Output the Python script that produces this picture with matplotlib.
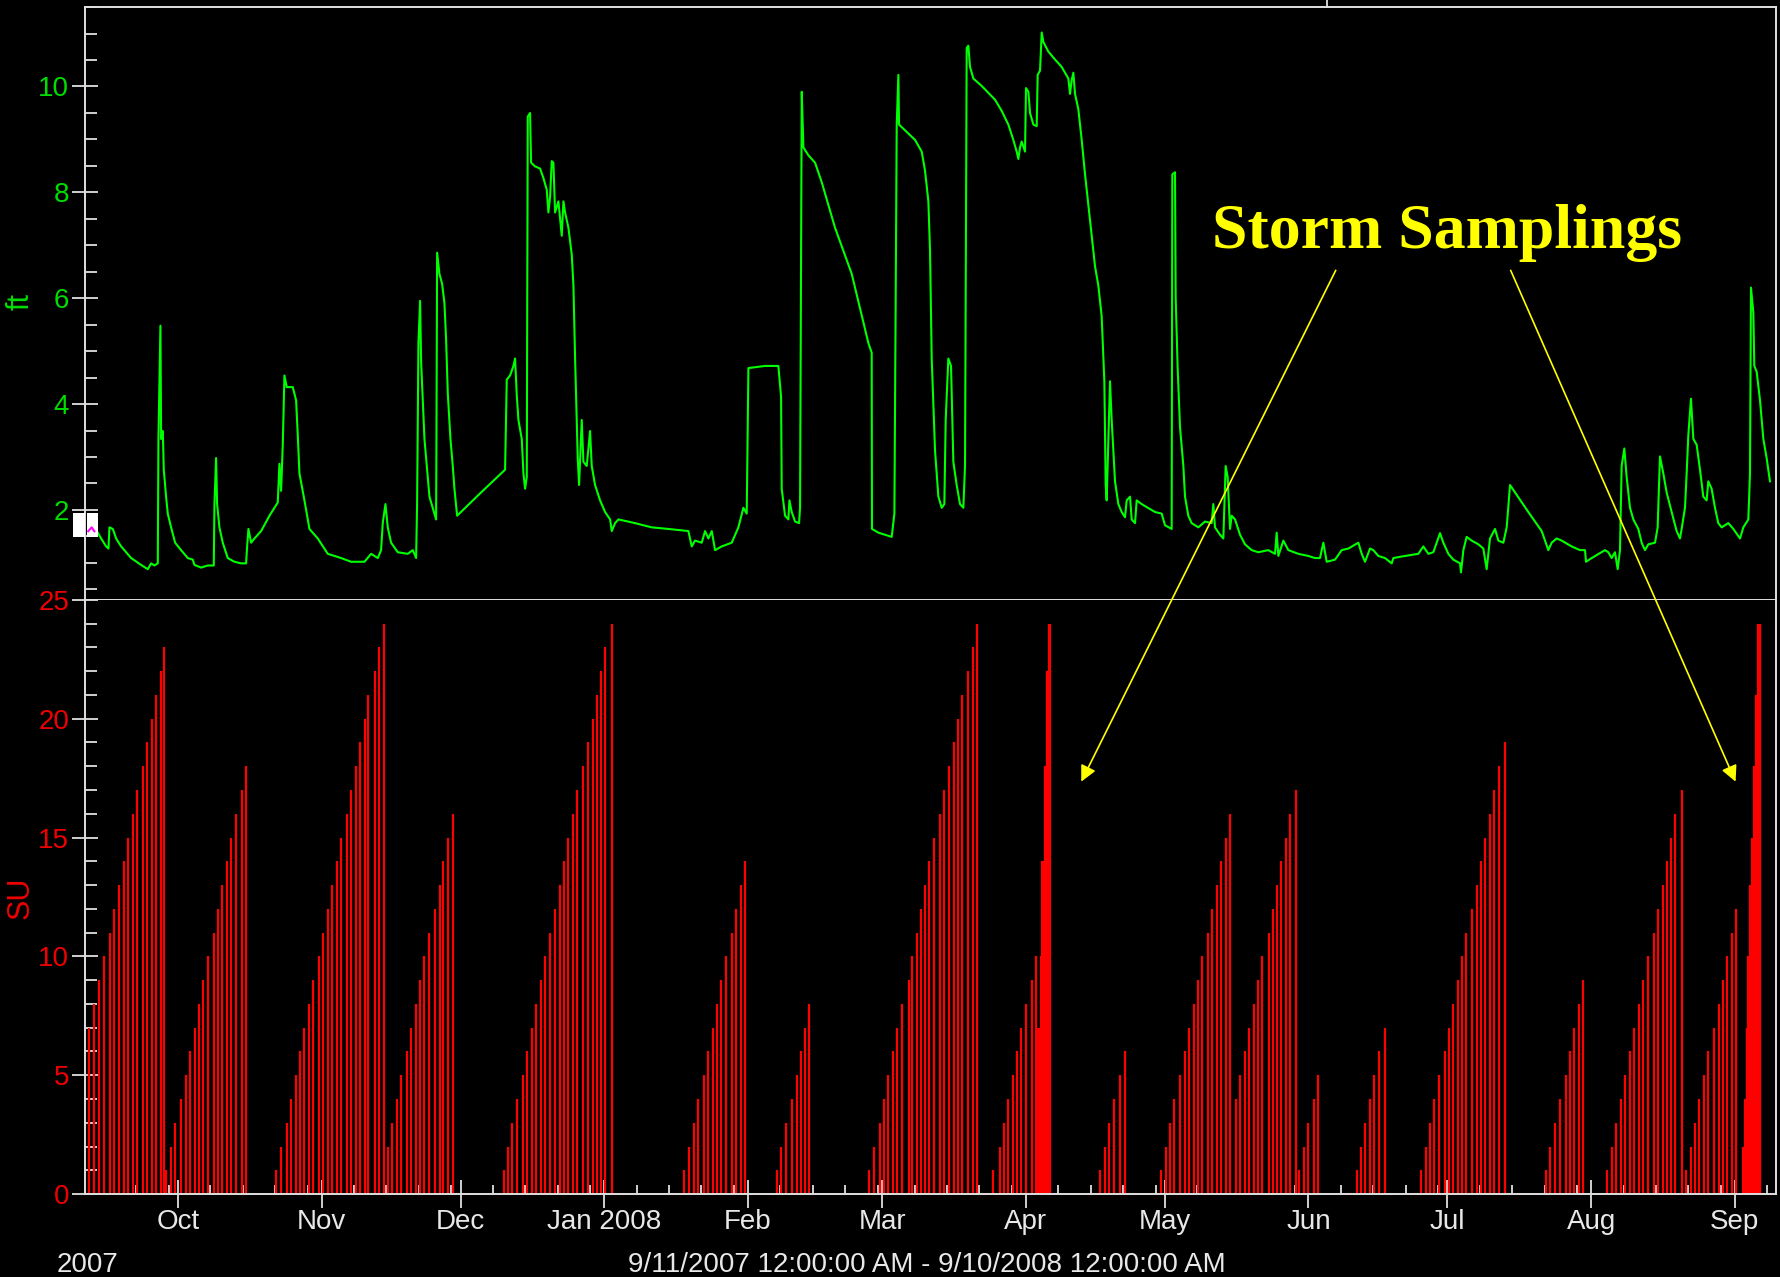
import matplotlib
matplotlib.use("Agg")
import matplotlib.pyplot as plt
import matplotlib.dates as mdates
from matplotlib.ticker import MultipleLocator, FuncFormatter
from matplotlib.patches import Rectangle, FancyArrowPatch
from matplotlib.lines import Line2D
from datetime import datetime
import numpy as np

# ---------------- data ----------------
START = datetime(2007, 9, 11)
END_DAYS = 365

# water level (ft) : days since 9/11/2007
level_days = [
    2.72, 3.44, 4.52, 5.02, 5.24, 5.96, 6.68, 7.75, 9.91, 12.07, 13.51, 14.23, 14.95, 15.67,
    15.81, 16.24, 16.39, 16.75, 16.96, 17.46, 17.82, 18.54, 19.41, 20.70, 22.14, 23.22, 23.58,
    25.02, 26.46, 27.75, 27.90, 28.25, 28.47, 28.97, 29.69, 30.77, 32.21, 33.65, 34.73, 34.95,
    35.23, 35.81, 36.53, 37.97, 39.77, 41.56, 41.92, 42.28, 42.64, 43.00, 43.50, 44.80, 45.52,
    45.88, 46.24, 47.32, 48.40, 50.20, 52.35, 55.23, 57.39, 60.27, 61.71, 63.14, 63.86, 64.22,
    64.80, 65.30, 66.02, 67.46, 69.62, 70.70, 71.42, 71.63, 71.92, 72.28, 72.50, 72.86, 73.22,
    73.79, 74.30, 75.01, 75.73, 75.80, 75.95, 76.45, 77.03, 77.53, 77.89, 78.25, 78.83, 79.33,
    79.69, 80.27, 85.44, 90.62,
    90.98, 91.70, 92.42, 92.78, 93.14, 93.50, 94.22, 94.58, 94.94, 95.30, 95.51, 96.01, 96.23,
    97.09, 98.17, 98.89, 99.61, 99.97, 100.33, 100.69, 101.05, 101.41, 102.13, 102.85, 103.21,
    103.57, 104.29, 105.01, 105.37, 105.73, 106.30, 106.59, 107.16, 107.52, 108.24, 108.96,
    109.32, 110.04, 111.12, 112.20, 113.28, 113.64, 114.36, 115.08, 118.67, 122.27, 125.87,
    130.18, 130.90, 131.62, 133.06, 133.78, 134.50, 135.22, 135.94, 137.38, 139.53, 140.97,
    142.05, 142.77, 143.13, 146.73, 149.60, 150.18, 150.32, 151.04, 151.76, 151.98, 152.48,
    153.20, 154.06, 154.28, 154.64, 155.00, 156.08, 157.52, 158.96, 160.39, 161.83, 165.43,
    169.03, 169.74, 169.80, 171.18, 172.62, 174.06, 174.64, 175.14, 175.50, 175.64, 176.94,
    179.10,
    180.53, 181.25, 181.97, 182.33, 182.69, 183.41, 184.13, 184.85, 185.42, 185.71, 186.28,
    186.86, 187.15, 187.36, 188.08, 188.80, 189.52, 189.88, 190.24, 190.60, 190.96, 191.68,
    193.48, 196.36, 197.79, 199.23, 200.31, 201.03, 201.39, 201.75, 202.11, 202.83, 203.04,
    203.55, 203.91, 204.63, 205.35, 205.56, 206.07, 206.43, 206.79, 207.86, 209.30, 210.74,
    212.18, 212.54, 212.90, 213.26, 213.62, 214.34, 215.06, 215.78, 216.50, 217.22, 217.94,
    218.65, 219.37, 219.95, 220.24, 220.45, 220.81, 221.17, 221.53, 222.25, 222.97, 223.69,
    224.41, 224.77, 225.49, 225.85, 226.57, 226.93, 228.00, 230.88, 232.32, 233.04, 234.48,
    234.62, 235.20, 235.34, 235.77, 236.28, 237.00, 237.36, 238.07, 238.79, 240.23, 241.67,
    243.11, 243.47, 243.83, 244.91, 245.63, 246.13, 246.56, 247.07, 247.43, 248.15, 249.23,
    250.30, 251.74, 253.18, 255.34, 256.78, 257.14, 257.50, 258.58, 259.66, 261.81, 263.97,
    265.41, 266.49, 267.21, 267.93, 269.73, 271.17,
    272.61, 274.77, 275.49, 276.21, 277.28, 278.00, 279.08, 280.52, 281.96, 282.32, 284.84,
    287.71, 288.79, 289.87, 290.95, 291.67, 292.39, 293.11, 294.19, 295.27, 296.71, 296.92,
    297.43, 298.14, 299.22, 300.66, 301.74, 302.46, 303.18, 304.26, 304.98, 306.06, 306.78,
    307.50, 308.58, 311.45, 314.33, 315.77, 316.49, 317.57, 318.65, 320.80, 322.60, 323.68,
    323.90, 325.12, 328.00, 328.71, 329.43, 330.15, 330.73, 331.23, 331.59, 332.17, 332.67,
    333.39, 334.11, 335.19, 335.91, 336.63, 337.35, 338.79, 339.36, 339.86, 340.58, 341.30,
    342.38, 343.46, 344.18, 344.54, 345.26, 345.62, 345.98, 346.55, 347.06, 347.78, 348.50,
    349.21, 349.93, 350.29, 351.01, 351.73, 352.45, 353.17, 354.61, 355.69, 357.13, 357.85,
    358.93, 359.29, 359.50, 360.01, 360.22, 360.73, 361.45, 362.17, 362.88, 363.60,
]
level_ft = [
    1.57, 1.46, 1.31, 1.27, 1.67, 1.64, 1.46, 1.31, 1.09, 0.96, 0.88, 0.99, 0.95, 0.99,
    3.34, 5.48, 3.34, 3.49, 2.76, 2.25, 1.93, 1.67, 1.38, 1.24, 1.09, 1.06, 0.96,
    0.91, 0.95, 0.95, 2.11, 2.98, 2.11, 1.67, 1.38, 1.09, 1.02, 0.99, 0.99, 1.31,
    1.64, 1.38, 1.46, 1.60, 1.89, 2.14, 2.87, 2.36, 3.23, 4.54, 4.32, 4.32, 4.07,
    3.41, 2.69, 2.18, 1.64, 1.46, 1.17, 1.09, 1.02, 1.02, 1.17, 1.09, 1.24, 1.75,
    2.11, 1.67, 1.38, 1.20, 1.17, 1.24, 1.09, 2.11, 5.15, 5.95, 4.79, 4.07, 3.34,
    2.76, 2.25, 2.04, 1.82, 3.16, 6.86, 6.46, 6.27, 5.91, 5.22, 4.21, 3.34, 2.83,
    2.40, 1.89, 2.33, 2.76,
    4.46, 4.54, 4.72, 4.86, 4.17, 3.70, 3.34, 2.69, 2.40, 2.62, 9.43, 9.50, 8.56,
    8.49, 8.45, 8.27, 8.05, 7.62, 7.91, 8.59, 8.56, 7.62, 7.83, 7.18, 7.83,
    7.62, 7.33, 6.82, 6.24, 4.86, 2.98, 2.47, 3.70, 2.91, 2.83, 3.49,
    2.83, 2.47, 2.18, 1.96, 1.82, 1.60, 1.75, 1.82, 1.75, 1.67, 1.64,
    1.60, 1.31, 1.42, 1.38, 1.60, 1.46, 1.60, 1.24, 1.31, 1.38, 1.67,
    2.04, 1.93, 4.68, 4.72, 4.72, 4.14, 2.40, 1.89, 1.82, 2.18, 1.96,
    1.78, 1.75, 2.04, 9.90, 8.85, 8.70, 8.56, 8.19, 7.76, 7.33, 6.46,
    5.15, 4.97, 1.64, 1.57, 1.53, 1.49, 1.93, 9.28, 10.22, 9.28, 9.17,
    8.99,
    8.77, 8.41, 7.83, 6.89, 4.86, 3.12, 2.25, 2.04, 2.11, 3.70, 4.86,
    4.72, 3.70, 2.91, 2.47, 2.11, 2.04, 2.83, 10.73, 10.77, 10.37, 10.15,
    10.01, 9.75, 9.54, 9.28, 8.99, 8.77, 8.63, 8.85, 8.96, 8.77, 9.97,
    9.90, 9.50, 9.28, 9.25, 10.22, 10.30, 11.02, 10.84, 10.66, 10.51, 10.37,
    10.15, 9.86, 10.12, 10.26, 9.86, 9.57, 8.99, 8.34, 7.76, 7.18, 6.60,
    6.24, 5.66, 4.43, 2.47, 2.18, 3.34, 4.43, 3.70, 2.54, 2.11, 1.96,
    1.86, 2.18, 2.25, 1.82, 1.75, 2.18, 2.11, 1.96, 1.93, 1.71, 1.64,
    8.34, 8.38, 6.02, 4.68, 3.56, 2.83, 2.25, 1.89, 1.75, 1.67, 1.78,
    1.75, 2.11, 1.67, 1.53, 1.46, 2.83, 2.62, 1.64, 1.89, 1.82, 1.53,
    1.35, 1.24, 1.20, 1.24, 1.17, 1.57, 1.13, 1.42, 1.24, 1.17, 1.13,
    1.09, 1.09, 1.38, 1.02, 1.06, 1.24,
    1.27, 1.38, 1.17, 1.02, 1.27, 1.24, 1.13, 1.09, 0.99, 1.09, 1.13,
    1.17, 1.31, 1.17, 1.20, 1.38, 1.56, 1.38, 1.17, 1.06, 0.99, 0.82,
    1.24, 1.49, 1.42, 1.35, 1.27, 0.88, 1.46, 1.64, 1.42, 1.38, 1.67,
    2.47, 2.33, 1.96, 1.60, 1.24, 1.38, 1.46, 1.42, 1.31, 1.24, 1.24,
    1.02, 1.09, 1.24, 1.20, 1.09, 1.20, 0.88, 1.24, 2.83, 3.16, 2.62,
    2.04, 1.82, 1.64, 1.38, 1.24, 1.35, 1.38, 1.67, 3.01, 2.69, 2.33,
    1.96, 1.60, 1.46, 1.64, 2.04, 2.69, 3.41, 4.10, 3.34, 3.23, 2.76,
    2.25, 2.18, 2.54, 2.40, 2.04, 1.75, 1.67, 1.75, 1.64, 1.46, 1.67,
    1.82, 2.69, 6.20, 5.73, 4.72, 4.61, 4.07, 3.34, 2.98, 2.54,
]

# sampler bottle count (SU) : days since 9/11/2007, per sample
su_days = (
    [0.85, 2.0, 3.0, 4.0, 5.4, 6.3, 7.3, 8.3, 9.3, 10.3, 11.1, 12.4, 13.4, 14.4, 15.2, 16.3, 17.1]
    + [17.4, 18.5, 19.4, 20.7, 21.7, 22.7, 23.6, 24.6, 25.5, 26.5, 27.7, 28.6, 29.6, 30.6, 31.5, 32.5, 33.8, 34.7]
    + [41.2, 42.2, 43.5, 44.5, 45.4, 46.4, 47.3, 48.2, 49.1, 50.5, 51.4, 52.4, 53.3, 54.3, 55.2, 56.5,
       57.4, 58.4, 59.3, 60.3, 61.1, 62.6, 63.5, 64.4]
    + [65.3, 66.3, 67.3, 68.2, 69.4, 70.4, 71.4, 72.3, 73.2, 74.2, 75.5, 76.5, 77.3, 78.3, 79.3]
    + [90.3, 91.2, 92.2, 93.1, 94.4, 95.4, 96.4, 97.3, 98.3, 99.3, 100.3, 101.4, 102.4, 103.4, 104.3,
       105.2, 106.2, 107.5, 108.5, 109.5, 110.4, 111.3, 112.2, 113.6]
    + [129.3, 130.3, 131.3, 132.2, 133.6, 134.5, 135.4, 136.4, 137.2, 138.2, 139.5, 140.5, 141.5, 142.4]
    + [149.3, 150.2, 151.2, 152.5, 153.6, 154.4, 155.4, 156.2]
    + [169.2, 170.2, 171.5, 172.5, 173.3, 174.3, 175.2, 176.2, 177.7, 178.5, 179.5, 180.4, 181.3, 182.2,
       183.2, 184.5, 185.4, 186.4, 187.4, 188.3, 189.2, 190.5, 191.5, 192.4]
    + [195.9, 197.4, 198.3, 199.25, 200.2, 201.1, 202.0, 203.0, 204.4, 205.2,
       205.5, 205.7, 205.9, 206.1, 206.3, 206.5, 206.7, 206.9, 207.1, 207.3, 207.5, 207.7, 207.85,
       208.0, 208.2]
    + [219.0, 220.0, 221.0, 222.0, 223.3, 224.3]
    + [232.1, 233.2, 234.1, 235.0, 236.3, 237.3, 238.3, 239.2, 240.2, 241.0, 242.4, 243.2, 244.2, 245.1,
       246.1, 247.1]
    + [248.4, 249.3, 250.2, 251.2, 252.2, 253.1, 253.9, 255.4, 256.3, 257.2, 258.1, 259.1, 260.0, 261.4]
    + [261.9, 263.0, 264.0, 265.2, 266.1]
    + [274.4, 275.4, 276.3, 277.3, 278.2, 279.2, 280.5]
    + [288.3, 289.3, 290.2, 291.2, 292.2, 293.4, 294.4, 295.3, 296.3, 297.2, 298.0, 299.4, 300.4, 301.3,
       302.2, 303.2, 304.1, 305.2, 306.5]
    + [315.3, 316.2, 317.2, 318.2, 319.5, 320.4, 321.4, 322.3, 323.3]
    + [328.4, 329.4, 330.3, 331.4, 332.4, 333.3, 334.3, 335.3, 336.3, 337.2, 338.6, 339.5, 340.5, 341.4,
       342.3, 343.2, 344.6]
    + [345.4, 346.5, 347.4, 348.3, 349.3, 350.3, 351.6, 352.6, 353.5, 354.4, 355.4, 356.3]
    + [357.7, 357.95, 358.2, 358.35, 358.55, 358.75, 358.95, 359.15, 359.35, 359.55, 359.75, 359.95,
       360.15, 360.35, 360.55, 360.75, 360.95, 361.15, 361.35, 361.55]
)
su_counts = (
    [7, 8, 9, 10, 11, 12, 13, 14, 15, 16, 17, 18, 19, 20, 21, 22, 23]
    + [1, 2, 3, 4, 5, 6, 7, 8, 9, 10, 11, 12, 13, 14, 15, 16, 17, 18]
    + [1, 2, 3, 4, 5, 6, 7, 8, 9, 10, 11, 12, 13, 14, 15, 16, 17, 18, 19, 20, 21, 22, 23, 24]
    + [2, 3, 4, 5, 6, 7, 8, 9, 10, 11, 12, 13, 14, 15, 16]
    + [1, 2, 3, 4, 5, 6, 7, 8, 9, 10, 11, 12, 13, 14, 15, 16, 17, 18, 19, 20, 21, 22, 23, 24]
    + [1, 2, 3, 4, 5, 6, 7, 8, 9, 10, 11, 12, 13, 14]
    + [1, 2, 3, 4, 5, 6, 7, 8]
    + [1, 2, 3, 4, 5, 6, 7, 8, 9, 10, 11, 12, 13, 14, 15, 16, 17, 18, 19, 20, 21, 22, 23, 24]
    + [1, 2, 3, 4, 5, 6, 7, 8, 9, 10,
       7, 7, 7, 7, 10, 14, 14, 14, 18, 18, 22, 22, 22, 24, 24]
    + [1, 2, 3, 4, 5, 6]
    + [1, 2, 3, 4, 5, 6, 7, 8, 9, 10, 11, 12, 13, 14, 15, 16]
    + [4, 5, 6, 7, 8, 9, 10, 11, 12, 13, 14, 15, 16, 17]
    + [1, 2, 3, 4, 5]
    + [1, 2, 3, 4, 5, 6, 7]
    + [1, 2, 3, 4, 5, 6, 7, 8, 9, 10, 11, 12, 13, 14, 15, 16, 17, 18, 19]
    + [1, 2, 3, 4, 5, 6, 7, 8, 9]
    + [1, 2, 3, 4, 5, 6, 7, 8, 9, 10, 11, 12, 13, 14, 15, 16, 17]
    + [1, 2, 3, 4, 5, 6, 7, 8, 9, 10, 11, 12]
    + [2, 2, 4, 4, 7, 7, 10, 10, 13, 13, 15, 15, 18, 18, 21, 21, 24, 24, 24, 24]
)

ft_ticks = [2, 4, 6, 8, 10]
su_ticks = [0, 5, 10, 15, 20, 25]
date_caption = "9/11/2007 12:00:00 AM - 9/10/2008 12:00:00 AM"
year_caption = "2007"
note_text = "Storm Samplings"

# ---------------- style ----------------
GREEN_LINE = "#00FF00"
GREEN_TXT = "#00DD00"
RED = "#FF0000"
RED_TXT = "#EE0000"
AXC = "#E0E0E0"
SANS = ["Liberation Sans", "DejaVu Sans"]
SERIF = ["Liberation Serif", "DejaVu Serif"]
FS = 20

fig = plt.figure(figsize=(17.81, 12.77), dpi=100, facecolor="black")

L, R = 0.04783, 0.99745
ax1 = fig.add_axes([L, 0.53025, R - L, 0.99444 - 0.53025])
ax2 = fig.add_axes([L, 0.06495, R - L, 0.53025 - 0.06495])

x0 = mdates.date2num(START)
lx = x0 + np.asarray(level_days)
bx = x0 + np.asarray(su_days)

for ax in (ax1, ax2):
    ax.set_facecolor("black")
    ax.set_xlim(x0, x0 + END_DAYS)
    for s in ax.spines.values():
        s.set_color(AXC)
        s.set_linewidth(1.4)

# top panel
ax1.plot(lx, level_ft, color=GREEN_LINE, lw=1.5, zorder=3)
ax1.set_ylim(0.3, 11.5)
ax1.set_yticks(ft_ticks)
ax1.yaxis.set_minor_locator(MultipleLocator(0.5))
ax1.tick_params(axis="x", which="both", bottom=False, labelbottom=False)
ax1.tick_params(axis="y", which="major", direction="inout", length=19, width=1.3,
                color=AXC, labelcolor=GREEN_TXT, labelsize=FS, pad=2)
ax1.tick_params(axis="y", which="minor", direction="in", length=8.5, width=1.3, color=AXC)
for t in ax1.get_yticklabels():
    t.set_family(SANS)

# bottom panel
ax2.vlines(bx, 0, su_counts, color=RED, lw=1.6, zorder=2)
ax2.set_ylim(0, 25)
ax2.set_yticks(su_ticks)
ax2.yaxis.set_minor_locator(MultipleLocator(1))
ax2.spines["top"].set_visible(False)
ax2.tick_params(axis="y", which="major", direction="inout", length=19, width=1.3,
                color=AXC, labelcolor=RED_TXT, labelsize=FS, pad=2)
ax2.tick_params(axis="y", which="minor", direction="in", length=8.5, width=1.3, color=AXC)

ax2.xaxis.set_major_locator(mdates.MonthLocator())
ax2.xaxis.set_minor_locator(mdates.DayLocator(bymonthday=[8, 15, 22, 29]))


def month_fmt(v, pos=None):
    d = mdates.num2date(v)
    return d.strftime("%b %Y") if d.month == 1 else d.strftime("%b")


ax2.xaxis.set_major_formatter(FuncFormatter(month_fmt))
ax2.tick_params(axis="x", which="major", direction="inout", length=20, width=1.3,
                color=AXC, labelcolor="#E8E8E8", labelsize=FS, pad=1)
ax2.tick_params(axis="x", which="minor", direction="in", length=6.5, width=1.3, color=AXC)
for t in ax2.get_xticklabels() + ax2.get_yticklabels():
    t.set_family(SANS)

# axis titles
fig.text(0.0115, 0.764, "ft", color=GREEN_TXT, fontsize=FS + 2, rotation=90,
         ha="center", va="center", family=SANS)
fig.text(0.0115, 0.297, "SU", color=RED_TXT, fontsize=FS + 2, rotation=90,
         ha="center", va="center", family=SANS)
fig.text(0.0494, 0.004, year_caption, color="#E8E8E8", fontsize=FS, ha="center",
         va="baseline", family=SANS)
fig.text(0.5204, 0.004, date_caption, color="#E8E8E8", fontsize=FS, ha="center",
         va="baseline", family=SANS)

# small legend box at left of top panel
fig.add_artist(Rectangle((0.0408, 0.5792), 0.0067, 0.0187, transform=fig.transFigure,
                         facecolor="white", edgecolor="none", zorder=5))
fig.add_artist(Rectangle((0.0487, 0.5792), 0.0061, 0.0187, transform=fig.transFigure,
                         facecolor="white", edgecolor="none", zorder=5))
fig.add_artist(Line2D([0.0495, 0.0515, 0.0530], [0.5840, 0.5870, 0.5840],
                      transform=fig.transFigure, color="#FF00FF", lw=1.5, zorder=6))

# small tick above top frame
fig.add_artist(Line2D([0.7449, 0.7449], [0.9945, 1.0], transform=fig.transFigure,
                      color=AXC, lw=1.3))

# annotation
fig.text(0.6805, 0.806, note_text, color="#FFFF00", fontsize=46, fontweight="bold",
         family=SERIF, ha="left", va="baseline", zorder=10)
for (xa, ya), (xb, yb) in [((0.7500, 0.7883), (0.6071, 0.3879)),
                           ((0.8482, 0.7883), (0.9745, 0.3879))]:
    fig.add_artist(FancyArrowPatch((xa, ya), (xb, yb), transform=fig.transFigure,
                                   arrowstyle="-|>", mutation_scale=24, color="#FFFF00",
                                   lw=1.2, shrinkA=0, shrinkB=0, zorder=10))

fig.savefig("out.png", dpi=100, facecolor="black")
